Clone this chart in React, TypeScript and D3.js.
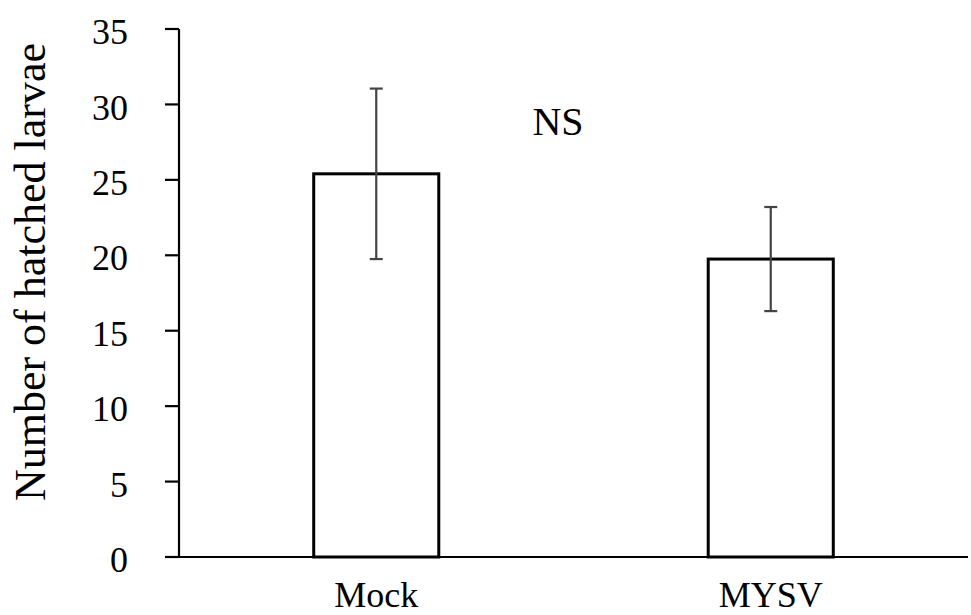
import React from 'react';
import * as d3 from 'd3';

const categories = ['Mock', 'MYSV'];
const means = [25.4, 19.75];
const errLow = [19.75, 16.3];
const errHigh = [31.05, 23.2];
const yTicks = [0, 5, 10, 15, 20, 25, 30, 35];
const annotation = 'NS';
const yTitle = 'Number of hatched larvae';

const width = 971;
const height = 615;
const left = 179;
const right = 968;
const top = 29;
const bottom = 557;
const font = "'Liberation Serif'";

const App = () => {
  const x = d3.scaleBand<string>()
    .domain(categories)
    .range([left, right])
    .paddingInner(0.683)
    .paddingOuter(0.683 / 2);
  const y = d3.scaleLinear().domain([0, 35]).range([bottom, top]);
  const cap = 6.5;
  const axisStroke = 2.2;

  return (
    <div style={{ position: 'absolute', left: 0, top: 0 }}>
      <svg width={width} height={height} style={{ display: 'block' }}>
        {/* bars */}
        {categories.map((c, i) => (
          <rect
            key={c}
            x={x(c)}
            y={y(means[i])}
            width={x.bandwidth()}
            height={y(0) - y(means[i])}
            fill="white"
            stroke="black"
            strokeWidth={3}
          />
        ))}

        {/* error bars */}
        {categories.map((c, i) => {
          const cx = x(c)! + x.bandwidth() / 2;
          return (
            <g key={c} stroke="#444" strokeWidth={2.2}>
              <line x1={cx} x2={cx} y1={y(errLow[i])} y2={y(errHigh[i])} />
              <line x1={cx - cap} x2={cx + cap} y1={y(errLow[i])} y2={y(errLow[i])} />
              <line x1={cx - cap} x2={cx + cap} y1={y(errHigh[i])} y2={y(errHigh[i])} />
            </g>
          );
        })}

        {/* y axis */}
        <line x1={left} x2={left} y1={y(35)} y2={bottom} stroke="black" strokeWidth={axisStroke} />
        {yTicks.map(t => (
          <g key={t} transform={`translate(0,${y(t)})`}>
            <line x1={left - 14} x2={left} stroke="black" strokeWidth={axisStroke} />
            <text
              x={128}
              dy="0.42em"
              textAnchor="end"
              style={{ fontFamily: font, fontSize: '36px' }}
            >
              {t}
            </text>
          </g>
        ))}

        {/* x axis */}
        <line x1={left - 14} x2={right} y1={bottom} y2={bottom} stroke="black" strokeWidth={axisStroke} />
        {categories.map(c => (
          <text
            key={c}
            x={x(c)! + x.bandwidth() / 2}
            y={607}
            textAnchor="middle"
            style={{ fontFamily: font, fontSize: '36px' }}
          >
            {c}
          </text>
        ))}

        {/* y title */}
        <text
          transform={`translate(45,${272}) rotate(-90)`}
          textAnchor="middle"
          style={{ fontFamily: font, fontSize: '44px' }}
        >
          {yTitle}
        </text>

        {/* NS annotation */}
        <text x={558} y={y(27.95)} textAnchor="middle" style={{ fontFamily: font, fontSize: '40px' }}>
          {annotation}
        </text>
      </svg>
    </div>
  );
};

export default App;
